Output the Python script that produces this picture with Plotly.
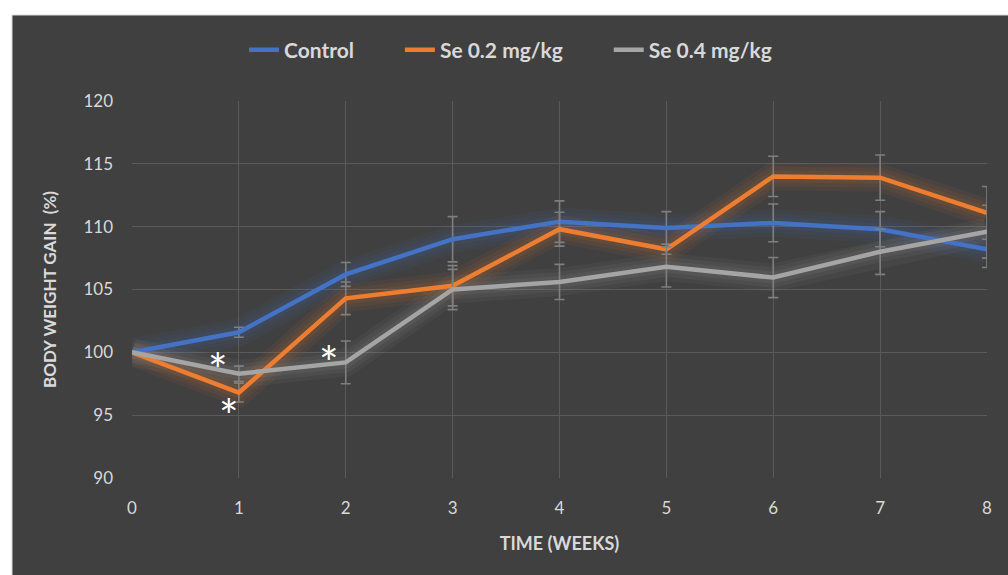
import plotly.graph_objects as go

weeks = [0, 1, 2, 3, 4, 5, 6, 7, 8]
control = [100, 101.6, 106.2, 109.0, 110.4, 109.9, 110.3, 109.8, 108.2]
se02 = [100, 96.8, 104.3, 105.3, 109.8, 108.2, 114.0, 113.9, 111.1]
se04 = [100, 98.3, 99.2, 105.0, 105.6, 106.8, 105.95, 108.0, 109.6]
control_err = [0, 0.4, 0.95, 1.8, 1.65, 1.3, 1.5, 1.4, 1.45]
se02_err = [0, 0.75, 1.3, 1.6, 1.35, 0.4, 1.6, 1.8, 2.1]
se04_err = [0, 0.6, 1.7, 1.6, 1.4, 1.6, 1.6, 1.8, 2.1]
names = ["Control", "Se 0.2 mg/kg", "Se 0.4 mg/kg"]

series = [
    (names[0], control, control_err, "#4472C4", "rgba(68,114,196,{a})"),
    (names[1], se02, se02_err, "#ED7D31", "rgba(237,125,49,{a})"),
    (names[2], se04, se04_err, "#A5A5A5", "rgba(165,165,165,{a})"),
]

FONT = "Lato"
fig = go.Figure()

# soft glow under lines
for name, ys, err, col, rgba in series:
    for w, a in [(28, 0.06), (20, 0.07), (12, 0.09)]:
        fig.add_trace(go.Scatter(x=weeks, y=ys, mode="lines",
                                 line=dict(color=rgba.format(a=a), width=w),
                                 showlegend=False, hoverinfo="skip"))

pad = "\u00a0" * 8
for name, ys, err, col, rgba in series:
    fig.add_trace(go.Scatter(
        x=weeks, y=ys, mode="lines", name=name + pad,
        line=dict(color=col, width=4.5),
        error_y=dict(type="data", array=err, visible=True,
                     color="#7f7f7f", thickness=1.6, width=5),
    ))

# stars
for (ax, ay) in [(0.8, 98.6), (0.91, 95.0), (1.84, 99.2)]:
    fig.add_annotation(x=ax, y=ay, text="*", showarrow=False,
                       font=dict(family=FONT, size=46, color="white"))

# dark chart area background
L, R, T, B = 132, 21, 101, 97
W, H = 1008 - L - R, 575 - T - B
fig.add_shape(type="rect", xref="paper", yref="paper", layer="below",
              x0=(12 - L) / W, x1=(1010 - L) / W,
              y0=(H + T - 577) / H, y1=(H + T - 15) / H,
              fillcolor="#404040", line=dict(color="#d9d9d9", width=1))

fig.update_layout(
    width=1008, height=575,
    margin=dict(l=L, r=R, t=T, b=B),
    paper_bgcolor="white", plot_bgcolor="rgba(0,0,0,0)",
    font=dict(family=FONT, color="#d9d9d9"),
    showlegend=True,
    legend=dict(orientation="h", x=(244 - L) / W, xanchor="left",
                y=(H + T - 50) / H, yanchor="middle",
                font=dict(family=FONT, size=21, color="#d9d9d9", weight="bold"),
                bgcolor="rgba(0,0,0,0)", itemwidth=30, tracegroupgap=0),
    xaxis=dict(range=[0, 8], dtick=1, showgrid=True, gridcolor="#5a5a5a",
               gridwidth=1.3, zeroline=False, showline=False,
               tickfont=dict(size=17, color="#d9d9d9"), ticklabelstandoff=18,
               title=dict(text="TIME (WEEKS)", standoff=20,
                          font=dict(size=18, color="#d9d9d9", weight="bold"))),
    yaxis=dict(range=[90, 120], dtick=5, showgrid=True, gridcolor="#5a5a5a",
               gridwidth=1.3, zeroline=False, showline=False,
               tickfont=dict(size=17, color="#d9d9d9"), ticklabelstandoff=18,
               title=dict(text="BODY WEIGHT GAIN  (%)", standoff=22,
                          font=dict(size=17, color="#d9d9d9", weight="bold"))),
)

fig.write_html("out.html", config={"displayModeBar": False},
               post_script="document.body.style.margin='0';")
